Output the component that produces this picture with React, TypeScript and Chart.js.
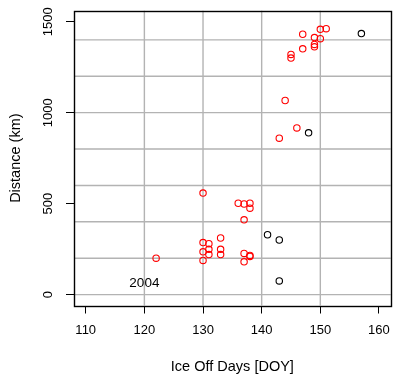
import React, { useEffect, useRef } from 'react';
import { Chart, registerables } from 'chart.js';

Chart.register(...registerables);

// Red series (Ice Off Day, Distance km)
const redX = [147, 150, 151, 149, 150, 149, 149, 147, 145, 145, 144, 146, 143, 130, 136, 137, 138, 138, 137, 130, 131, 133, 130, 131, 131, 133, 133, 130, 122, 137, 138, 138, 137];
const redY = [1431, 1458, 1462, 1413, 1407, 1375, 1362, 1351, 1320, 1300, 1067, 916, 860, 558, 502, 498, 502, 475, 411, 286, 280, 311, 235, 249, 220, 249, 220, 188, 200, 226, 215, 210, 180];

// Black series
const blackX = [157, 148, 141, 143, 143];
const blackY = [1435, 889, 329, 300, 75];

const xTicks = [110, 120, 130, 140, 150, 160];
const yTicks = [0, 500, 1000, 1500];
const xGridValues = [120, 130, 140, 150];
const yGridValues = [0, 200, 400, 600, 800, 1000, 1200, 1400];
const xRange = [108, 162];
const yRange = [-60, 1560];

const xTitle = 'Ice Off Days [DOY]';
const yTitle = 'Distance (km)';
const noteText = '2004';
const noteX = 120;
const noteY = 63;

const FONT = '"Liberation Sans", Arial, Helvetica, sans-serif';

const rPlot = {
  id: 'rPlot',
  beforeDatasetsDraw(chart: any) {
    const { ctx, chartArea: a, scales } = chart;
    const x = scales.x;
    const y = scales.y;
    ctx.save();
    ctx.strokeStyle = '#b3b3b3';
    ctx.lineWidth = 1.4;
    ctx.beginPath();
    xGridValues.forEach((v) => {
      const px = x.getPixelForValue(v);
      ctx.moveTo(px, a.top);
      ctx.lineTo(px, a.bottom);
    });
    yGridValues.forEach((v) => {
      const py = y.getPixelForValue(v);
      ctx.moveTo(a.left, py);
      ctx.lineTo(a.right, py);
    });
    ctx.stroke();
    ctx.fillStyle = '#000';
    ctx.font = '13.5px ' + FONT;
    ctx.textAlign = 'center';
    ctx.textBaseline = 'middle';
    ctx.fillText(noteText, x.getPixelForValue(noteX), y.getPixelForValue(noteY));
    ctx.restore();
  },
  afterDatasetsDraw(chart: any) {
    const { ctx, chartArea: a } = chart;
    ctx.save();
    ctx.strokeStyle = '#000';
    ctx.lineWidth = 1.4;
    ctx.strokeRect(Math.round(a.left) + 0.5, Math.round(a.top) + 0.5, Math.round(a.right) - Math.round(a.left), Math.round(a.bottom) - Math.round(a.top));
    ctx.restore();
  },
};

export default function App() {
  const ref = useRef<HTMLCanvasElement | null>(null);
  useEffect(() => {
    if (!ref.current) return;
    Chart.defaults.font.family = FONT;
    Chart.defaults.color = '#000';
    const toPts = (xs: number[], ys: number[]) => xs.map((v, i) => ({ x: v, y: ys[i] }));
    const chart = new Chart(ref.current, {
      type: 'scatter',
      data: {
        datasets: [
          {
            data: toPts(redX, redY),
            borderColor: '#ff0000',
            backgroundColor: 'rgba(0,0,0,0)',
            pointRadius: 3.2,
            pointBorderWidth: 1.1,
          },
          {
            data: toPts(blackX, blackY),
            borderColor: '#000000',
            backgroundColor: 'rgba(0,0,0,0)',
            pointRadius: 3.2,
            pointBorderWidth: 1.1,
          },
        ],
      },
      options: {
        responsive: false,
        animation: false,
        devicePixelRatio: 1,
        layout: { padding: { top: 9, right: 3, left: 0, bottom: 0 } },
        plugins: { legend: { display: false }, tooltip: { enabled: false } },
        scales: {
          x: {
            type: 'linear',
            min: xRange[0],
            max: xRange[1],
            afterBuildTicks: (s: any) => {
              s.ticks = xTicks.map((v) => ({ value: v }));
            },
            afterFit: (s: any) => {
              s.height = 77.5;
            },
            grid: { drawOnChartArea: false, drawTicks: true, tickLength: 8, color: '#000', lineWidth: 1 },
            border: { display: false },
            ticks: { font: { size: 13 }, color: '#000', padding: 9, maxRotation: 0, autoSkip: false, callback: (v: any) => String(v) },
            title: { display: true, text: xTitle, font: { size: 14.5 }, color: '#000', padding: { top: 0, bottom: 7.5 } },
          },
          y: {
            type: 'linear',
            min: yRange[0],
            max: yRange[1],
            afterBuildTicks: (s: any) => {
              s.ticks = yTicks.map((v) => ({ value: v }));
            },
            afterFit: (s: any) => {
              s.width = 74;
            },
            grid: { drawOnChartArea: false, drawTicks: true, tickLength: 8, color: '#000', lineWidth: 1 },
            border: { display: false },
            ticks: { font: { size: 13 }, color: '#000', padding: 3, minRotation: 90, maxRotation: 90, crossAlign: 'center', autoSkip: false, callback: (v: any) => String(v) },
            title: { display: true, text: yTitle, font: { size: 14.5 }, color: '#000', padding: { top: 7.3, bottom: 0 } },
          },
        },
      },
      plugins: [rPlot],
    } as any);
    return () => chart.destroy();
  }, []);
  return (
    <div style={{ position: 'fixed', left: 0, top: 0, width: 399, height: 383, background: '#fff' }}>
      <canvas ref={ref} width={399} height={383} style={{ width: 399, height: 383, display: 'block' }} />
    </div>
  );
}
